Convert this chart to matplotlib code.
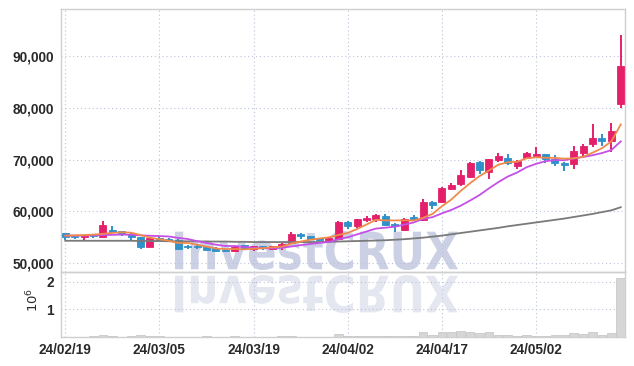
import matplotlib

matplotlib.use('Agg')
import matplotlib.pyplot as plt
from matplotlib.textpath import TextPath
from matplotlib.patches import PathPatch
from matplotlib.font_manager import FontProperties
from matplotlib.transforms import Affine2D

# daily candles, 2024-02-19 .. 2024-05-17 (60 trading days)
opens = [55900, 55300, 55000, 55600, 55100, 56400, 56100, 55700, 55000, 53100,
         54800, 54600, 54400, 53200, 53200, 53000, 52900, 52600, 52400, 53400,
         52800, 53200, 52800, 53000, 53800, 55700, 55200, 54800, 54400, 54700,
         58000, 57200, 58400, 58600, 59100, 57600, 56400, 58900, 58400, 61900,
         61900, 64300, 65300, 66700, 69600, 67700, 69900, 70300, 68800, 70400,
         70700, 71100, 70200, 69400, 69100, 71300, 73000, 74200, 73600, 80800]
closes = [55100, 55000, 55500, 55200, 57400, 56000, 55700, 55000, 53000, 54800,
          54500, 54200, 52800, 53100, 53100, 52600, 52400, 52300, 53100, 52800,
          53200, 52900, 53200, 53700, 55700, 55200, 54700, 54400, 54800, 58000,
          57200, 58500, 58800, 59300, 57400, 57200, 58600, 58600, 61900, 61200,
          64600, 65100, 67000, 69400, 68000, 70100, 70700, 69400, 69800, 71400,
          71100, 70200, 69300, 69000, 71700, 72600, 74200, 73600, 75600, 88200]
highs = [55900, 55400, 55500, 55700, 58200, 57100, 56200, 55800, 55100, 55000,
         55000, 54800, 54600, 53400, 53500, 53300, 53000, 52700, 53200, 53500,
         53300, 53300, 53300, 53800, 56000, 55800, 55300, 54900, 54900, 58100,
         58100, 58600, 59100, 59500, 59500, 57800, 58800, 59300, 62300, 62000,
         64800, 65500, 68100, 69500, 69700, 70200, 71300, 71100, 70000, 71500,
         72400, 71200, 70900, 69500, 72700, 73100, 77000, 74900, 77200, 94100]
lows = [54500, 54600, 54300, 54800, 55000, 55800, 55300, 54300, 52700, 53000,
        54300, 54000, 52500, 52800, 52700, 52500, 52100, 52100, 52200, 52600,
        52300, 52600, 52700, 52600, 53700, 54700, 54600, 54300, 54200, 54600,
        56600, 56800, 57900, 58000, 57200, 56000, 56100, 58200, 58100, 60500,
        61700, 64100, 65000, 66500, 67200, 66300, 69600, 68900, 68300, 70200,
        70600, 69400, 68800, 67900, 68200, 70600, 72500, 72600, 71500, 80100]
volumes = [0.01, 0.01, 0.01, 0.02, 0.07, 0.03, 0.01, 0.05, 0.07, 0.05,
           0.02, 0.01, 0.01, 0.01, 0.01, 0.03, 0.01, 0.01, 0.03, 0.01,
           0.01, 0.01, 0.01, 0.03, 0.03, 0.01, 0.01, 0.01, 0.01, 0.12,
           0.04, 0.03, 0.03, 0.03, 0.03, 0.03, 0.03, 0.03, 0.18, 0.08,
           0.18, 0.17, 0.22, 0.19, 0.13, 0.18, 0.07, 0.07, 0.04, 0.07,
           0.04, 0.04, 0.07, 0.07, 0.14, 0.12, 0.18, 0.08, 0.14, 2.14]  # x 1e6

ma_short = [55300, 55350, 55400, 55500, 55640, 55820, 55960, 55860, 55420, 54900,
            54600, 54300, 53860, 53880, 53540, 53160, 52800, 52700, 52700, 52640,
            52760, 52860, 53040, 53160, 53740, 54140, 54500, 54740, 54960, 55420,
            55820, 56580, 57460, 58360, 58240, 58240, 58260, 58220, 58740, 59500,
            60980, 62280, 63960, 65460, 66820, 67920, 69040, 69520, 69600, 70280,
            70480, 70380, 70360, 70200, 70260, 70560, 71360, 72220, 73540, 76840]
ma_mid = [55300, 55300, 55300, 55350, 55400, 55450, 55500, 55450, 55350, 55270,
          55210, 55130, 54860, 54650, 54220, 53880, 53550, 53280, 53290, 53090,
          52960, 52830, 52870, 52930, 53190, 53450, 53680, 53890, 54060, 54580,
          54980, 55540, 56100, 56660, 56830, 57030, 57420, 57840, 58550, 58870,
          59610, 60270, 61090, 62100, 63160, 64450, 65660, 66740, 67530, 68550,
          69200, 69710, 69940, 69900, 70270, 70520, 70870, 71290, 71870, 73550]
ma_long = [54300, 54300, 54300, 54300, 54300, 54300, 54300, 54300, 54250, 54250,
           54250, 54200, 54200, 54200, 54200, 54150, 54150, 54150, 54100, 54100,
           54050, 54050, 54050, 54050, 54050, 54050, 54050, 54050, 54100, 54150,
           54200, 54250, 54300, 54350, 54400, 54500, 54600, 54750, 54900, 55100,
           55300, 55550, 55800, 56050, 56300, 56550, 56800, 57100, 57350, 57600,
           57850, 58100, 58350, 58600, 58900, 59200, 59500, 59850, 60200, 60800]

tick_idx = [0, 10, 20, 30, 40, 50]
tick_labels = ['24/02/19', '24/03/05', '24/03/19', '24/04/02', '24/04/17', '24/05/02']
price_ticks = [50000, 60000, 70000, 80000, 90000]

UP = '#e5206b'
DOWN = '#2f91c9'
GRID = '#bcc2d8'
SPINE = '#cfcfcf'
FONT = ['Liberation Sans', 'DejaVu Sans']

W, H = 634, 366
fig = plt.figure(figsize=(W / 100, H / 100), dpi=100, facecolor='white')
ax = fig.add_axes([61 / W, 1 - 272 / H, 564 / W, 263 / H])
axv = fig.add_axes([61 / W, 1 - 337 / H, 564 / W, 65 / H], sharex=ax)

x = list(range(len(closes)))
colors = [UP if c >= o else DOWN for o, c in zip(opens, closes)]
bottoms = [min(o, c) for o, c in zip(opens, closes)]
heights = [max(abs(c - o), 120) for o, c in zip(opens, closes)]

ax.vlines(x, lows, highs, colors=colors, linewidth=1.4, zorder=3)
ax.bar(x, heights, bottom=bottoms, width=0.74, color=colors, edgecolor=colors,
       linewidth=0.6, zorder=4)
ax.plot(x, ma_long, color='#7a7a7a', linewidth=1.3, zorder=5)
ax.plot(x, ma_mid, color='#c64fe6', linewidth=1.3, zorder=5)
ax.plot(x, ma_short, color='#f08a4b', linewidth=1.3, zorder=6)

axv.bar(x, [v * 1e6 for v in volumes], width=0.92, color='#d6d6d6',
        edgecolor='#c2c2c2', linewidth=0.5, zorder=3)

ax.set_xlim(-0.45, 59.45)
ax.set_ylim(48250, 99200)
axv.set_ylim(0, 2.35e6)

for a in (ax, axv):
    a.set_facecolor('none')
    a.grid(True, color=GRID, linestyle=(0, (1, 2.5)), linewidth=0.8)
    a.set_axisbelow(True)
    for s in a.spines.values():
        s.set_color(SPINE)
        s.set_linewidth(1.0)
    a.tick_params(length=0, colors='#2a2a2a', labelsize=9.8)

ax.set_xticks(tick_idx)
ax.tick_params(axis='x', labelbottom=False)
ax.set_yticks(price_ticks)
ax.set_yticklabels([f'{p:,}' for p in price_ticks], family=FONT, weight='bold')
ax.tick_params(axis='y', pad=5)

axv.set_xticks(tick_idx)
axv.set_xticklabels(tick_labels, family=FONT, weight='bold')
axv.tick_params(axis='x', pad=4)
axv.set_yticks([1e6, 2e6])
axv.set_yticklabels(['1', '2'], family=FONT, weight='bold')
axv.tick_params(axis='y', pad=5)
fig.text(33 / W, 1 - 300 / H, r'$10^6$', rotation=90, ha='center', va='center',
         fontsize=9.5, color='#2a2a2a')

# watermark and its reflection
tp = TextPath((0, 0), 'InvestCRUX', size=100,
              prop=FontProperties(family='DejaVu Sans', weight='bold'))
ext = tp.get_extents()
sx = 283 / ext.width
main_tr = Affine2D().translate(-ext.x0, -ext.y0).scale(sx, 39 / ext.height).translate(175, H - 270)
refl_tr = Affine2D().translate(-ext.x0, -ext.y0).scale(sx, -38 / ext.height).translate(175, H - 275)
fig.add_artist(PathPatch(tp, transform=main_tr, facecolor='#cbd0e4', edgecolor='none', zorder=-1))
fig.add_artist(PathPatch(tp, transform=refl_tr, facecolor='#e4e6f0', edgecolor='none', zorder=-1))

fig.savefig('out.png', dpi=100, facecolor='white')
